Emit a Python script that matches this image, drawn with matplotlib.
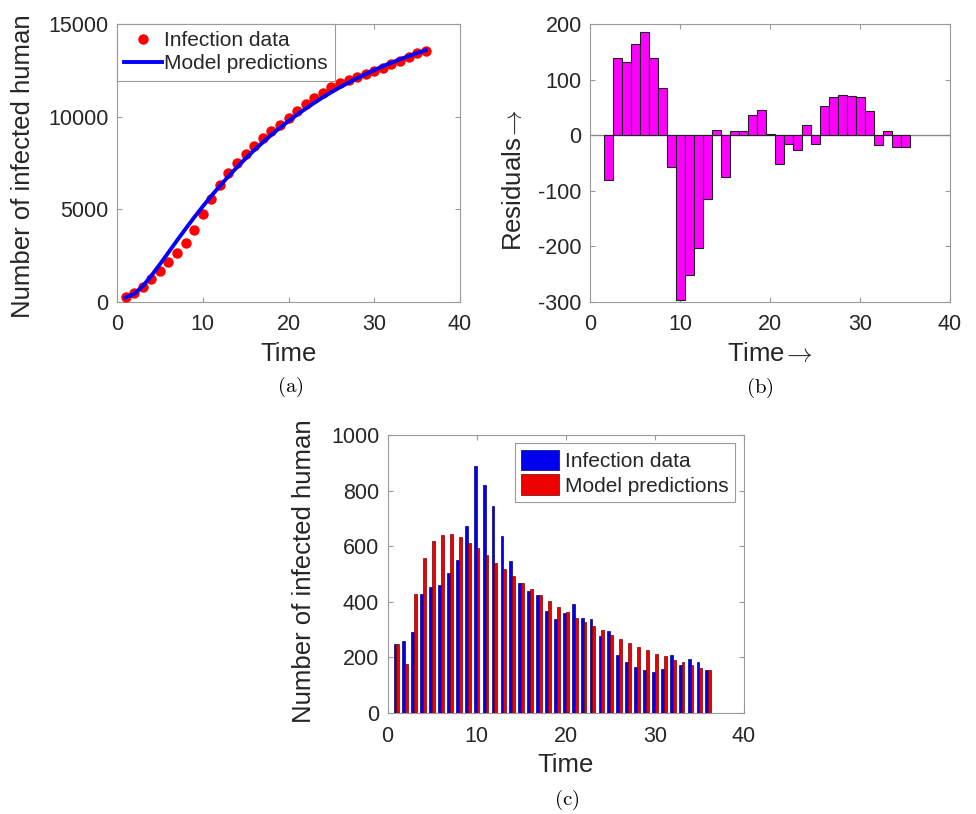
import numpy as np
import matplotlib
matplotlib.use("Agg")
import matplotlib.pyplot as plt

plt.rcParams["font.family"] = ["Liberation Sans", "DejaVu Sans"]
plt.rcParams["mathtext.fontset"] = "cm"
plt.rcParams["axes.unicode_minus"] = False

# ---- data ----
days = list(range(1, 37))

# (a) cumulative infected humans
cum_data = [250, 510, 800, 1230, 1680, 2140, 2650, 3200, 3870, 4760, 5580, 6330,
            6960, 7510, 7970, 8410, 8840, 9210, 9550, 9920, 10320, 10660, 11000, 11280,
            11580, 11790, 11980, 12150, 12310, 12460, 12630, 12840, 13020, 13220, 13410, 13570]
cum_model = [250, 430, 855, 1415, 2035, 2675, 3320, 3950, 4565, 5155, 5725, 6265,
             6780, 7275, 7745, 8190, 8610, 9015, 9400, 9760, 10105, 10430, 10745, 11040,
             11320, 11585, 11835, 12075, 12300, 12515, 12720, 12910, 13095, 13265, 13430, 13585]

# (b) residuals, days 2..35
res_days = list(range(2, 36))
residuals = [-80, 138, 131, 164, 185, 138, 84, -57, -296, -251, -202, -115,
             10, -75, 8, 7, 37, 45, 2, -51, -16, -27, 18, -16,
             53, 68, 73, 71, 68, 44, -17, 8, -22, -22]

# (c) daily infected humans
daily_data = [250, 259, 292, 427, 455, 459, 505, 551, 673, 890, 820, 746,
              635, 545, 467, 439, 425, 366, 339, 361, 393, 343, 337, 277,
              295, 210, 184, 166, 156, 147, 160, 209, 174, 195, 183, 156]
daily_model = [250, 178, 427, 559, 619, 642, 643, 633, 613, 592, 568, 541,
               517, 493, 469, 445, 423, 403, 382, 363, 343, 327, 313, 297,
               279, 265, 253, 237, 226, 214, 204, 192, 183, 174, 162, 156]

TXT = "#262626"
SPINE = "#9a9a9a"
TICK_FS = 15.5
LABEL_FS = 18.5
LEG_FS = 15


def style_axes(ax):
    for s in ax.spines.values():
        s.set_color(SPINE)
        s.set_linewidth(0.8)
    ax.tick_params(direction="in", length=3.5, width=0.8, color=SPINE,
                   labelcolor=TXT, labelsize=TICK_FS, top=True, right=True)
    ax.tick_params(axis="x", pad=9)
    ax.tick_params(axis="y", pad=6)


fig = plt.figure(figsize=(9.76, 8.14), dpi=100)
W, H = 976.0, 814.0


def px_axes(left, top, right, bottom):
    return fig.add_axes([left / W, 1 - bottom / H, (right - left) / W, (bottom - top) / H])


# ---------- (a) ----------
ax1 = px_axes(117, 24, 460, 302)
ax1.plot(days, cum_data, "o", color="#ff0000", markersize=7.5, markeredgewidth=0,
         label="Infection data", zorder=3)
ax1.plot(days, cum_model, "-", color="#0000ff", linewidth=2.8,
         label="Model predictions", zorder=4)
ax1.set_xlim(0, 40)
ax1.set_ylim(0, 15000)
ax1.set_xticks([0, 10, 20, 30, 40])
ax1.set_yticks([0, 5000, 10000, 15000])
style_axes(ax1)
ax1.set_xlabel("Time", fontsize=LABEL_FS, color=TXT, labelpad=5)
ax1.set_ylabel("Number of infected human", fontsize=LABEL_FS, color=TXT)
ax1.yaxis.set_label_coords(-0.24, 0.49)
leg1 = ax1.legend(loc="upper left", fontsize=LEG_FS, fancybox=False, framealpha=1,
                  edgecolor=SPINE, borderaxespad=0, handlelength=1.8,
                  handletextpad=0.1, borderpad=0.35, labelspacing=0.2)
leg1.get_frame().set_linewidth(0.8)
for t in leg1.get_texts():
    t.set_color(TXT)

# ---------- (b) ----------
ax2 = px_axes(590, 24, 950, 302)
ax2.bar(res_days, residuals, width=1.0, color="#ff00ff", edgecolor="#222222",
        linewidth=0.8, zorder=3)
ax2.axhline(0, color="#8a8a8a", linewidth=1.0, zorder=2)
ax2.set_xlim(0, 40)
ax2.set_ylim(-300, 200)
ax2.set_xticks([0, 10, 20, 30, 40])
ax2.set_yticks([-300, -200, -100, 0, 100, 200])
style_axes(ax2)
ax2.set_xlabel(r"Time$\hspace{-0.08}\rightarrow$", fontsize=LABEL_FS, color=TXT, labelpad=5)
ax2.set_ylabel(r"Residuals$\hspace{-0.08}\rightarrow$", fontsize=LABEL_FS, color=TXT)
ax2.yaxis.set_label_coords(-0.178, 0.44)

# ---------- (c) ----------
ax3 = px_axes(387.5, 435, 744, 713)
x = np.array(days)
bw = 0.32
ax3.bar(x - bw / 2, daily_data, width=bw, color="#0000ee", edgecolor="#00007a",
        linewidth=0.5, label="Infection data", zorder=3)
ax3.bar(x + bw / 2, daily_model, width=bw, color="#ee0000", edgecolor="#7a0000",
        linewidth=0.5, label="Model predictions", zorder=3)
ax3.set_xlim(0, 40)
ax3.set_ylim(0, 1000)
ax3.set_xticks([0, 10, 20, 30, 40])
ax3.set_yticks([0, 200, 400, 600, 800, 1000])
style_axes(ax3)
ax3.set_xlabel("Time", fontsize=LABEL_FS, color=TXT, labelpad=5)
ax3.set_ylabel("Number of infected human", fontsize=LABEL_FS, color=TXT)
ax3.yaxis.set_label_coords(-0.2, 0.51)
leg3 = ax3.legend(loc="upper right", bbox_to_anchor=(0.975, 0.97), fontsize=LEG_FS,
                  fancybox=False, framealpha=1, edgecolor=SPINE, borderaxespad=0,
                  handlelength=1.8, handleheight=1.15, handletextpad=0.3,
                  borderpad=0.3, labelspacing=0.15)
leg3.get_frame().set_linewidth(0.8)
for t in leg3.get_texts():
    t.set_color(TXT)

# ---------- captions ----------
fig.text(290 / W, 1 - 387 / H, r"$\mathrm{(a)}$", fontsize=15, ha="center", va="center")
fig.text(760 / W, 1 - 388 / H, r"$\mathrm{(b)}$", fontsize=15, ha="center", va="center")
fig.text(567 / W, 1 - 800 / H, r"$\mathrm{(c)}$", fontsize=15, ha="center", va="center")

fig.savefig("out.png", dpi=100)
